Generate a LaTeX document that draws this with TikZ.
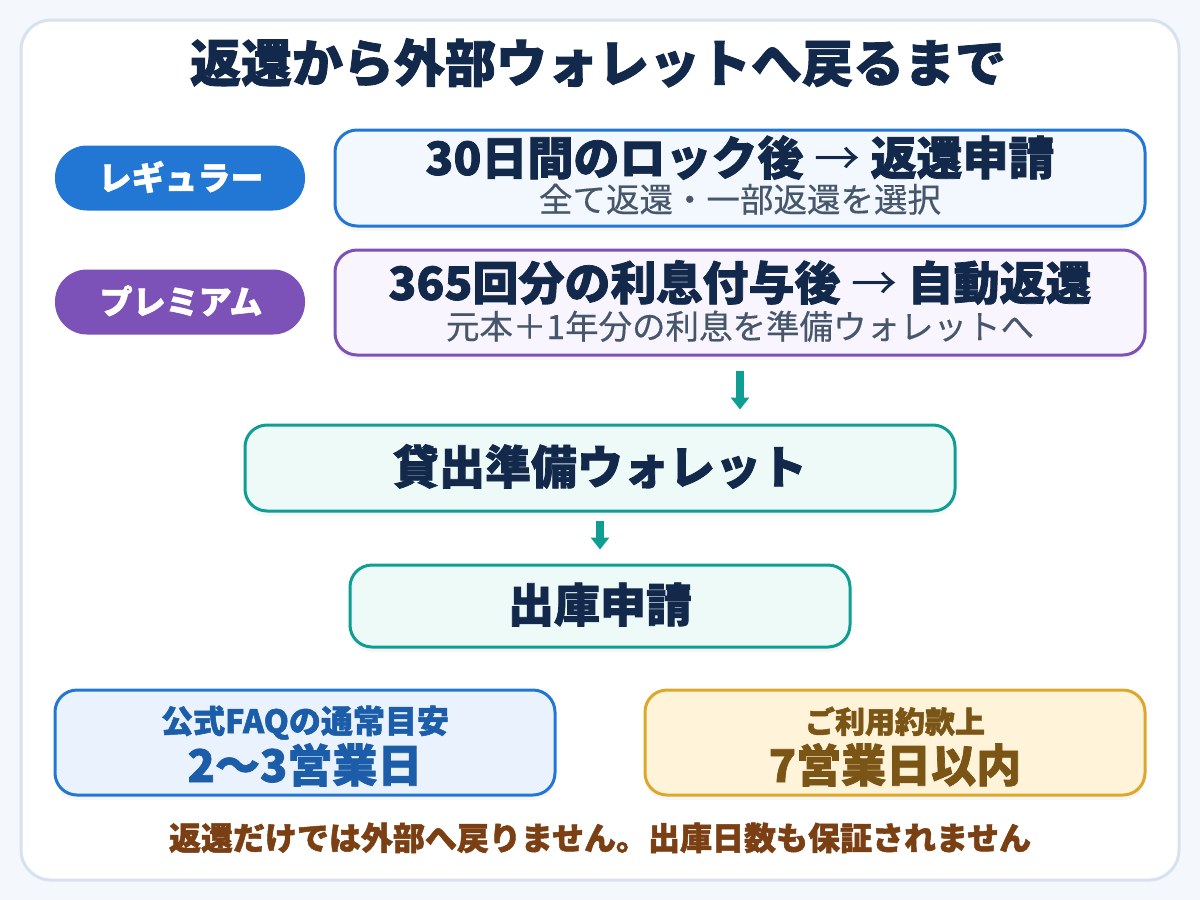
\documentclass[tikz,border=0pt]{standalone}
\usepackage{fontspec}
\setmainfont{Noto Sans CJK JP}[BoldFeatures={FakeBold=1.6}]
\usetikzlibrary{arrows.meta, shadows}
\definecolor{pagebg}{HTML}{F4F7FB}
\definecolor{panelline}{HTML}{D8E2EE}
\definecolor{navy}{HTML}{13294B}
\definecolor{subgray}{HTML}{46566B}
\definecolor{regblue}{HTML}{2377D4}
\definecolor{regfill}{HTML}{F3F8FE}
\definecolor{prempurple}{HTML}{7D52B8}
\definecolor{premfill}{HTML}{F8F5FE}
\definecolor{teal}{HTML}{0E9E94}
\definecolor{tealfill}{HTML}{EEFAF8}
\definecolor{faqfill}{HTML}{EAF3FD}
\definecolor{faqtext}{HTML}{1B5DA8}
\definecolor{gold}{HTML}{DDA829}
\definecolor{goldfill}{HTML}{FFF3D9}
\definecolor{goldtext}{HTML}{7A5515}
\definecolor{notebrown}{HTML}{7B3F14}
\newcommand{\fsz}[1]{\fontsize{#1}{#1}\selectfont}
\tikzset{
    x=1pt, y=-1pt, % one unit is one pixel of the reference
    card/.style={draw, line width=3pt, rounded corners=22pt,
        drop shadow={shadow xshift=0pt, shadow yshift=-5pt, opacity=0.07}}, % every box
    pill/.style={fill, rounded corners=32pt, minimum width=250, minimum height=65}, % plan tags
    label/.style={anchor=base, inner sep=0pt}, % texts sit on their base line
    flow/.style={-{Triangle[length=12pt, width=18pt]}, line width=8pt, teal}, % down arrows
}
\begin{document}
\begin{tikzpicture}
\useasboundingbox (0,0) rectangle (1200,900);
\fill[pagebg] (0,0) rectangle (1200,900);
\draw[panelline, line width=3pt, fill=white, rounded corners=30pt] (21,20) rectangle (1179,880);
\node[label, font=\fsz{51}\bfseries, text=navy] (title) at (598,82) {返還から外部ウォレットへ戻るまで};
% plan tags
\node[pill, regblue] (regtag) at (180,178) {};
\node[label, font=\fsz{33}\bfseries, text=white] (regname) at (181,190) {レギュラー};
\node[pill, prempurple] (premtag) at (180,302) {};
\node[label, font=\fsz{33}\bfseries, text=white] (premname) at (181,314) {プレミアム};
% plan boxes
\node[card, draw=regblue, fill=regfill, minimum width=810, minimum height=96] (regular) at (740,178) {};
\node[label, font=\fsz{46}\bfseries, text=navy] (reghead) at (740,175) {30日間のロック後 {\mdseries →} 返還申請};
\node[label, font=\fsz{33.5}\addfontfeature{FakeBold=0.4}, text=subgray] (regsub) at (740,212) {全て返還・一部返還を選択};
\node[card, draw=prempurple, fill=premfill, minimum width=810, minimum height=105] (premium) at (740,302.5) {};
\node[label, font=\fsz{46}\bfseries, text=navy] (premhead) at (740,300) {365回分の利息付与後 {\mdseries →} 自動返還};
\node[label, font=\fsz{33.5}\addfontfeature{FakeBold=0.4}, text=subgray] (premsub) at (740,339) {元本＋1年分の利息を準備ウォレットへ};
% wallet and withdrawal
\node[card, draw=teal, fill=tealfill, minimum width=710, minimum height=86] (wallet) at (600,468) {};
\node[label, font=\fsz{46}\bfseries, text=navy] (walletname) at (600,484) {貸出準備ウォレット};
\node[card, draw=teal, fill=tealfill, minimum width=500, minimum height=82] (withdraw) at (600,606) {};
\node[label, font=\fsz{46}\bfseries, text=navy] (withdrawname) at (600,622) {出庫申請};
\draw[flow, shorten <=14pt, shorten >=14pt] (premium.south) -- (premium.south |- wallet.north);
\draw[flow, shorten <=8pt, shorten >=14pt] (wallet.south) -- (withdraw.north);
% time boxes
\node[card, draw=regblue, fill=faqfill, minimum width=500, minimum height=105] (faq) at (305,742.5) {};
\node[label, font=\fsz{32}\bfseries, text=faqtext] (faqhead) at (305,733) {公式FAQの通常目安};
\node[label, font=\fsz{45}\bfseries, text=faqtext] (faqdays) at (305,782) {2〜3営業日};
\node[card, draw=gold, fill=goldfill, minimum width=500, minimum height=105] (terms) at (895,742.5) {};
\node[label, font=\fsz{30}\bfseries, text=goldtext] (termshead) at (895,733) {ご利用約款上};
\node[label, font=\fsz{45}\bfseries, text=goldtext] (termsdays) at (895,782) {7営業日以内};
\node[label, font=\fsz{32}\bfseries, text=notebrown] (note) at (600,850) {返還だけでは外部へ戻りません。出庫日数も保証されません};
\end{tikzpicture}
\end{document}
